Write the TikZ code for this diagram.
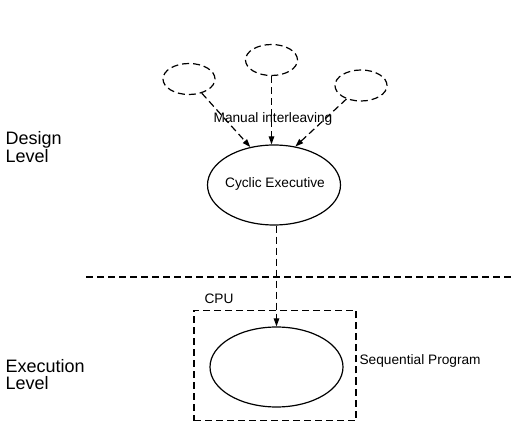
\documentclass[tikz,border=0pt]{standalone}
\usepackage{fontspec}
\setmainfont{Liberation Sans}
\usetikzlibrary{shapes.geometric,arrows.meta}
\begin{document}
\begin{tikzpicture}[x=1pt,y=-1pt,
  line width=1.2pt,
  dsh/.style={dash pattern=on 7pt off 4pt},
  task/.style={ellipse,draw,dsh,minimum width=52pt,minimum height=31pt,inner sep=0pt},
  proc/.style={ellipse,draw,minimum width=133pt,minimum height=80pt,inner sep=0pt},
  arr/.style={draw,dsh,-{Stealth[length=8pt,width=5.5pt,inset=0pt]}},
  lbl/.style={font=\fontsize{13.7}{15}\selectfont,inner sep=0pt},
  lvl/.style={font=\fontsize{18}{16.6}\selectfont,inner sep=0pt,align=left,anchor=base west}]
  \useasboundingbox (0,0) rectangle (515,425);

  % task ellipses at the design level
  \node[task] (tl) at (189,79) {};
  \node[task] (tm) at (271.5,60) {};
  \node[task] (tr) at (361,85.5) {};

  % cyclic executive
  \node[proc] (cyc) at (274,185) {};
  \node[lbl] (cyct) at (275,184) {Cyclic Executive};

  % arrows into the executive
  \draw[arr] (tl) -- (cyc.122);
  \draw[arr] (tm.south) -- (tm.south |- cyc.north);
  \draw[arr] (tr) -- (cyc.61);
  \node[lbl] (mi) at (273,119) {Manual interleaving};

  % level separator
  \coordinate (sepl) at (86,277);
  \coordinate (sepr) at (515,277);
  \draw[dsh] (sepl) -- (sepr);

  % CPU box and sequential program
  \node[draw,dsh,minimum width=162pt,minimum height=110pt,inner sep=0pt] (cpu) at (275,365.5) {};
  \node[lbl] (cput) at (219,298.5) {CPU};
  \node[proc] (seq) at (276.5,367) {};
  \node[lbl,anchor=base west] (seqt) at (359,364) {Sequential Program};

  % mapping from executive to program
  \draw[arr] (cyc.south -| seq.north) -- (seq.north);

  % level labels (base anchor sits on the last line)
  \node[lvl] (dl) at (5,162.3) {Design\\Level};
  \node[lvl] (el) at (5,389.3) {Execution\\Level};
\end{tikzpicture}
\end{document}
